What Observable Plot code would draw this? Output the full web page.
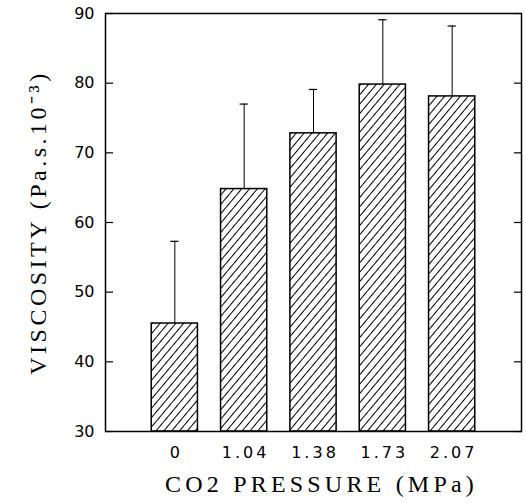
<!DOCTYPE html>
<html>
<head>
<meta charset="utf-8">
<script src="https://cdn.jsdelivr.net/npm/d3@7"></script>
<script src="https://cdn.jsdelivr.net/npm/@observablehq/plot@0.6"></script>
<style>
  html, body { margin: 0; padding: 0; background: #fff; }
</style>
</head>
<body>
<div id="chart"></div>
<script>
const pressure = ["0", "1.04", "1.38", "1.73", "2.07"];
const viscosity = [45.5, 64.8, 72.8, 79.8, 78.1];
const sdUpper = [11.8, 12.2, 6.3, 9.3, 10.1];
const yTicks = [30, 40, 50, 60, 70, 80, 90];
const xLabel = "CO2 PRESSURE (MPa)";
const yLabel = "VISCOSITY (Pa.s.10\u207B\u00B3)";

const data = pressure.map((p, i) => ({p, v: viscosity[i], top: viscosity[i] + sdUpper[i]}));

const chart = Plot.plot({
  width: 526,
  height: 503,
  marginLeft: 105,
  marginRight: 5,
  marginTop: 13,
  marginBottom: 72,
  style: {background: "#fff", color: "#000"},
  x: {type: "band", domain: pressure, paddingInner: 1/3, paddingOuter: 2/3, round: false},
  y: {domain: [30, 90]},
  marks: [
    Plot.barY(data, {x: "p", y1: 30, y2: "v", fill: "url(#hatch)", stroke: "#000", strokeWidth: 1.5}),
    Plot.ruleX(data, {x: "p", y1: "v", y2: "top", stroke: "#000", strokeWidth: 1}),
    Plot.tickY(data, {x: "p", y: "top", insetLeft: 19, insetRight: 19, stroke: "#000", strokeWidth: 1.2}),
    Plot.frame({stroke: "#000", strokeWidth: 1.5}),
    Plot.axisY(yTicks, {anchor: "left", tickSize: 8, dx: 8, fill: "none", label: null, stroke: "#000", strokeWidth: 1.2}),
    Plot.axisY(yTicks, {anchor: "right", tickSize: 8, dx: -8, fill: "none", label: null, stroke: "#000", strokeWidth: 1.2}),
    Plot.axisY(yTicks, {anchor: "left", tickSize: 0, tickPadding: 11, label: null, fontSize: 16, fontFamily: "DejaVu Sans", fill: "#000"}),
    Plot.axisX({anchor: "bottom", tickSize: 0, tickPadding: 15, label: null, fontSize: 16, fontFamily: "DejaVu Sans", fill: "#000"}),
    Plot.text([xLabel], {text: d => d, frameAnchor: "bottom", textAnchor: "middle", lineAnchor: "middle", dx: 8, dy: 52.5, fontSize: 24, fontFamily: "Liberation Serif", fill: "#000"}),
    Plot.text([yLabel], {text: d => d, frameAnchor: "left", textAnchor: "middle", lineAnchor: "middle", rotate: -90, dx: -67, dy: 0, fontSize: 24, fontFamily: "Liberation Serif", fill: "#000"})
  ]
});

const svg = d3.select(chart);
const defs = svg.insert("defs", ":first-child");
const pat = defs.append("pattern")
  .attr("id", "hatch")
  .attr("patternUnits", "userSpaceOnUse")
  .attr("width", 6)
  .attr("height", 10)
  .attr("patternTransform", "rotate(40)");
pat.append("rect").attr("width", 6).attr("height", 10).attr("fill", "#fff");
pat.append("line").attr("x1", 0.5).attr("y1", 0).attr("x2", 0.5).attr("y2", 10).attr("stroke", "#000").attr("stroke-width", 1);

svg.selectAll('g[aria-label="x-axis tick label"] text').attr("letter-spacing", 3).attr("dx", 1.5);
const texts = svg.selectAll('g[aria-label="text"]').nodes();
d3.select(texts[0]).selectAll("text").attr("letter-spacing", 4.2);
d3.select(texts[1]).selectAll("text").attr("letter-spacing", 3.5);

document.getElementById("chart").appendChild(chart);
</script>
</body>
</html>
